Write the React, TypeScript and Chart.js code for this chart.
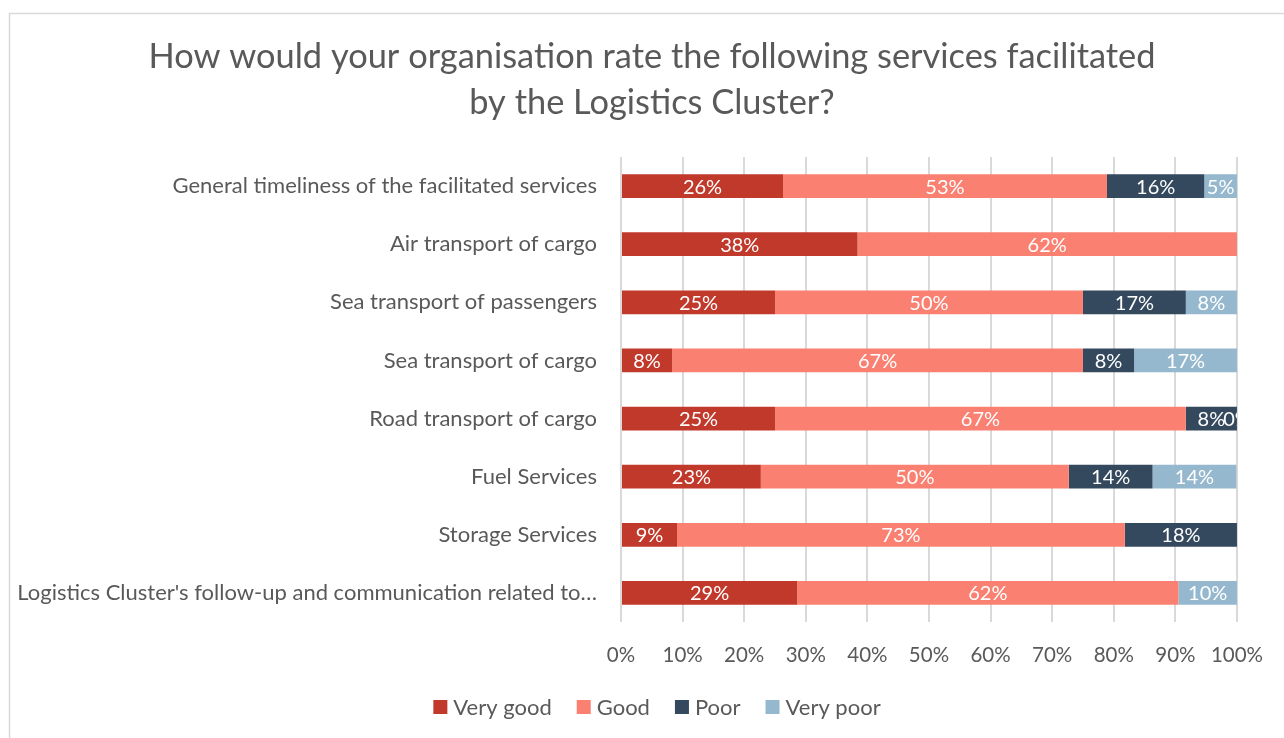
import React, { useEffect, useRef } from "react";
import { Chart, registerables } from "chart.js";

Chart.register(...registerables);

const categories = [
  "General timeliness of the facilitated services",
  "Air transport of cargo",
  "Sea transport of passengers",
  "Sea transport of cargo",
  "Road transport of cargo",
  "Fuel Services",
  "Storage Services",
  "Logistics Cluster's follow-up and communication related to…",
];

const veryGood = [26.3, 38.4, 25.0, 8.3, 25.0, 22.7, 9.1, 28.6];
const good = [52.6, 61.6, 50.0, 66.7, 66.7, 50.0, 72.7, 61.9];
const poor = [15.8, null, 16.7, 8.3, 8.3, 13.6, 18.2, null];
const veryPoor = [5.3, null, 8.3, 16.7, 0, 13.6, null, 9.5];

const xTicks = ["0%", "10%", "20%", "30%", "40%", "50%", "60%", "70%", "80%", "90%", "100%"];

const titleLines = [
  "How would your organisation rate the following services facilitated",
  "by the Logistics Cluster?",
];

const FONT = "Lato";
const TEXT = "#595959";

export default function App() {
  const ref = useRef<HTMLCanvasElement>(null);

  useEffect(() => {
    document.body.style.margin = "0";
    const canvas = ref.current!;
    const padLeft = 10;

    const frame = {
      id: "frame",
      beforeDraw(chart: any) {
        const { ctx } = chart;
        ctx.save();
        ctx.fillStyle = "#ffffff";
        ctx.fillRect(0, 0, chart.width, chart.height);
        ctx.strokeStyle = "#D9D9D9";
        ctx.lineWidth = 1.5;
        ctx.strokeRect(9.5, 13.5, chart.width + 20, chart.height + 20);
        ctx.restore();
      },
    };

    const titleAndLegend = {
      id: "titleAndLegend",
      afterDraw(chart: any) {
        const { ctx } = chart;
        ctx.save();
        // title
        ctx.fillStyle = TEXT;
        ctx.font = `34.4px ${FONT}`;
        ctx.textAlign = "center";
        ctx.textBaseline = "middle";
        titleLines.forEach((line, i) => ctx.fillText(line, 652, 57 + i * 46));
        // legend
        ctx.font = `22px ${FONT}`;
        const box = 14, gapText = 6, gapItem = 25;
        const items = chart.data.datasets.map((ds: any) => ({
          text: ds.label,
          color: ds.backgroundColor,
          w: box + gapText + ctx.measureText(ds.label).width,
        }));
        const total = items.reduce((s: number, it: any) => s + it.w, 0) + gapItem * (items.length - 1);
        let x = 657 - total / 2;
        const cy = 707;
        ctx.textAlign = "left";
        items.forEach((it: any) => {
          ctx.fillStyle = it.color;
          ctx.fillRect(x, cy - box / 2, box, box);
          ctx.fillStyle = TEXT;
          ctx.fillText(it.text, x + box + gapText, cy + 1);
          x += it.w + gapItem;
        });
        ctx.restore();
      },
    };

    const labels = {
      id: "segLabels",
      afterDatasetsDraw(chart: any) {
        const { ctx, chartArea } = chart;
        ctx.save();
        ctx.beginPath();
        ctx.rect(chartArea.left, chartArea.top, chartArea.right - chartArea.left, chartArea.bottom - chartArea.top);
        ctx.clip();
        ctx.fillStyle = "#ffffff";
        ctx.font = `20px ${FONT}`;
        ctx.textAlign = "center";
        ctx.textBaseline = "middle";
        chart.data.datasets.forEach((ds: any, di: number) => {
          const meta = chart.getDatasetMeta(di);
          meta.data.forEach((el: any, i: number) => {
            const v = ds.data[i];
            if (v === null || v === undefined) return;
            const cx = (el.x + el.base) / 2;
            ctx.fillText(Math.round(v) + "%", cx, el.y + 1);
          });
        });
        ctx.restore();
      },
    };

    const chart = new Chart(canvas, {
      type: "bar",
      data: {
        labels: categories,
        datasets: [
          { label: "Very good", data: veryGood, backgroundColor: "#C0392B" },
          { label: "Good", data: good, backgroundColor: "#FA8072" },
          { label: "Poor", data: poor, backgroundColor: "#34495E" },
          { label: "Very poor", data: veryPoor, backgroundColor: "#95B8CE" },
        ],
      },
      options: {
        indexAxis: "y",
        responsive: false,
        maintainAspectRatio: false,
        animation: false,
        devicePixelRatio: 1,
        layout: { padding: { top: 157, left: padLeft, right: 45, bottom: 70 } },
        datasets: { bar: { barPercentage: 0.41, categoryPercentage: 1, borderWidth: 0 } },
        scales: {
          x: {
            stacked: true,
            min: 0,
            max: 100,
            ticks: {
              stepSize: 10,
              color: TEXT,
              font: { family: FONT, size: 20.5 },
              padding: 21,
              callback: (_v: any, i: number) => xTicks[i],
            },
            grid: { color: "#D9D9D9", lineWidth: 2, drawTicks: false },
            border: { display: false },
            afterFit: (scale: any) => {
              scale.height = 46;
            },
          },
          y: {
            stacked: true,
            ticks: { color: TEXT, font: { family: FONT, size: 22 }, padding: 24, autoSkip: false },
            grid: { display: false, drawTicks: false },
            border: { display: false },
            afterFit: (scale: any) => {
              scale.width = 621 - padLeft;
            },
          },
        },
        plugins: {
          title: { display: false },
          legend: { display: false },
          tooltip: { enabled: false },
        },
      },
      plugins: [frame, labels, titleAndLegend],
    } as any);

    return () => chart.destroy();
  }, []);

  return (
    <div style={{ width: 1284, height: 738 }}>
      <canvas ref={ref} width={1284} height={738} style={{ display: "block" }} />
    </div>
  );
}
